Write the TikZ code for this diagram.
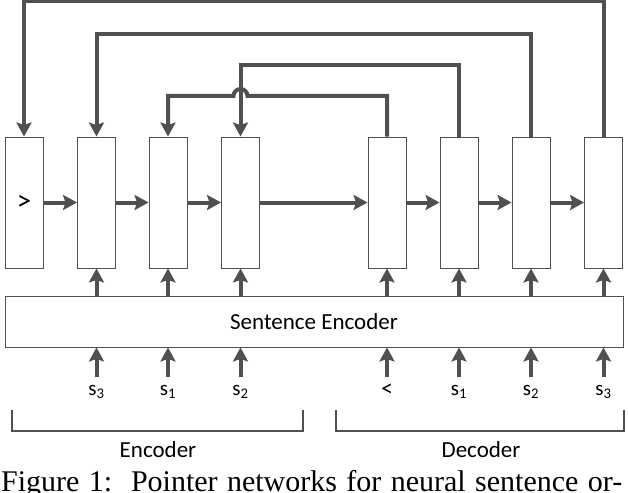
\documentclass[tikz,border=0pt]{standalone}
\usepackage{fontspec}
\setmainfont{Carlito}
\newfontfamily\capfont{Liberation Serif}
\usetikzlibrary{arrows.meta,calc}
\definecolor{lc}{HTML}{505050}
\begin{document}
\begin{tikzpicture}[x=1pt,y=-1pt,
  cell/.style={draw=lc,line width=0.9pt,minimum width=38pt,minimum height=131pt,inner sep=0,
    font=\fontsize{29}{32}\selectfont},
  encbox/.style={draw=lc,line width=0.9pt,minimum width=618pt,minimum height=51pt,inner sep=0,
    font=\fontsize{23}{28}\selectfont},
  inlab/.style={anchor=base,inner sep=0,text height=18pt,text depth=5pt,
    font=\fontsize{21}{25}\selectfont},
  arr/.style={draw=lc,line width=4pt,-{Stealth[length=14pt,width=15pt,inset=2.5pt]}},
  ptr/.style={arr},
  brk/.style={draw=lc,line width=2.4pt},
  grp/.style={inner sep=0,font=\fontsize{23}{28}\selectfont}
]
\useasboundingbox (0,0) rectangle (628,492);
\clip (0,0) rectangle (628,492);

% recurrent cells
\node[cell] (b1) at (24,202.5) {>};
\node[cell] (b2) at (96.5,202.5) {};
\node[cell] (b3) at (168,202.5) {};
\node[cell] (b4) at (240.5,202.5) {};
\node[cell] (b5) at (387,202.5) {};
\node[cell] (b6) at (459,202.5) {};
\node[cell] (b7) at (531,202.5) {};
\node[cell] (b8) at (603.5,202.5) {};

% sentence encoder
\node[encbox] (enc) at (314,321.5) {Sentence Encoder};

% input labels
\node[inlab] (l2) at (96.5,395) {s\textsubscript{3}};
\node[inlab] (l3) at (168,395) {s\textsubscript{1}};
\node[inlab] (l4) at (240.5,395) {s\textsubscript{2}};
\node[inlab] (l5) at (387,395) {\fontsize{24}{28}\selectfont\raisebox{-1pt}{<}};
\node[inlab] (l6) at (459,395) {s\textsubscript{1}};
\node[inlab] (l7) at (531,395) {s\textsubscript{2}};
\node[inlab] (l8) at (603.5,395) {s\textsubscript{3}};

% horizontal recurrent arrows
\draw[arr] (b1.east) -- (b2.west);
\draw[arr] (b2.east) -- (b3.west);
\draw[arr] (b3.east) -- (b4.west);
\draw[arr] (b4.east) -- (b5.west);
\draw[arr] (b5.east) -- (b6.west);
\draw[arr] (b6.east) -- (b7.west);
\draw[arr] (b7.east) -- (b8.west);

% encoder to cells, inputs to encoder
\foreach \i in {2,...,8}{
  \draw[arr] (enc.north -| b\i.south) -- (b\i.south);
  \draw[arr] (l\i.north) -- (enc.south -| l\i.north);
}

% pointer lines
\coordinate (r1) at (0,1.5);
\coordinate (r2) at (0,34);
\coordinate (r3) at (0,65.5);
\coordinate (r4) at (0,96);
\draw[ptr] (b8.north) -- (b8.north |- r1) -| (b1.north);
\draw[ptr] (b7.north) -- (b7.north |- r2) -| (b2.north);
\draw[ptr] (b6.north) -- (b6.north |- r3) -| (b4.north);
\draw[ptr] (b5.north) |- ($(b4.north |- r4)+(7,0)$)
  arc[start angle=0,end angle=-180,radius=7] -| (b3.north);

% brackets
\draw[brk] (12,410) |- (303,431) -- (303,410);
\draw[brk] (336,410) |- (624,431) -- (624,410);
\node[grp] (encl) at (158,450) {Encoder};
\node[grp] (decl) at (481,450) {Decoder};

% caption (cut off at the bottom, as in the reference)
\node[anchor=base west,inner sep=0,font=\capfont\fontsize{30}{36}\selectfont] (cap)
  at (1,491.5) {\makebox[621pt][s]{Figure 1:\ \ Pointer networks for neural sentence or-}};
\end{tikzpicture}
\end{document}
